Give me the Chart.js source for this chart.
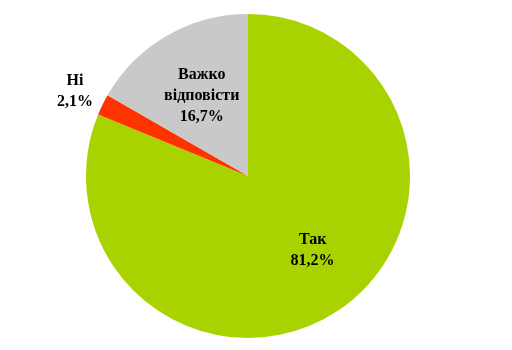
<!DOCTYPE html>
<html>
<head>
<meta charset="utf-8">
<script src="https://cdn.jsdelivr.net/npm/chart.js@4"></script>
<style>
  html, body { margin: 0; padding: 0; background: #fff; }
  #wrap { width: 512px; height: 350px; }
</style>
</head>
<body>
<div id="wrap"><canvas id="pieChart"></canvas></div>
<script>
// Chart data
const categories = [["Так"], ["Ні"], ["Важко", "відповісти"]];
const values = [81.2, 2.1, 16.7];
const colors = ["#A9D300", "#FF3300", "#C9C9C9"];
// label distance from centre as share of radius, and angle nudge (degrees)
const labelRadius = [0.61, 1.19, 0.57];
const labelTurn = [-7, 0, 0];

const labelPlugin = {
  id: "sliceLabels",
  afterDatasetsDraw(chart) {
    const ctx = chart.ctx;
    const meta = chart.getDatasetMeta(0);
    ctx.save();
    ctx.font = "bold 16px 'Liberation Serif', 'Times New Roman', serif";
    ctx.fillStyle = "#000";
    ctx.textAlign = "center";
    ctx.textBaseline = "middle";
    meta.data.forEach(function (arc, i) {
      const mid = (arc.startAngle + arc.endAngle) / 2 + labelTurn[i] * Math.PI / 180;
      const r = arc.outerRadius * labelRadius[i];
      const x = arc.x + Math.cos(mid) * r;
      const y = arc.y + Math.sin(mid) * r;
      const lines = categories[i].concat([values[i].toFixed(1).replace(".", ",") + "%"]);
      const lh = 21;
      const top = y - (lines.length - 1) * lh / 2;
      lines.forEach(function (t, j) {
        ctx.fillText(t, x, top + j * lh);
      });
    });
    ctx.restore();
  },
};

const pieCtx = document.getElementById("pieChart").getContext("2d");
new Chart(pieCtx, {
  type: "pie",
  data: {
    labels: categories.map(function (c) { return c.join(" "); }),
    datasets: [
      {
        data: values,
        backgroundColor: colors,
        borderWidth: 0,
      },
    ],
  },
  options: {
    responsive: true,
    maintainAspectRatio: false,
    animation: false,
    layout: {
      padding: { top: 14, bottom: 12, left: 0, right: 16 },
    },
    plugins: {
      legend: { display: false },
      tooltip: { enabled: false },
    },
  },
  plugins: [labelPlugin],
});
</script>
</body>
</html>
